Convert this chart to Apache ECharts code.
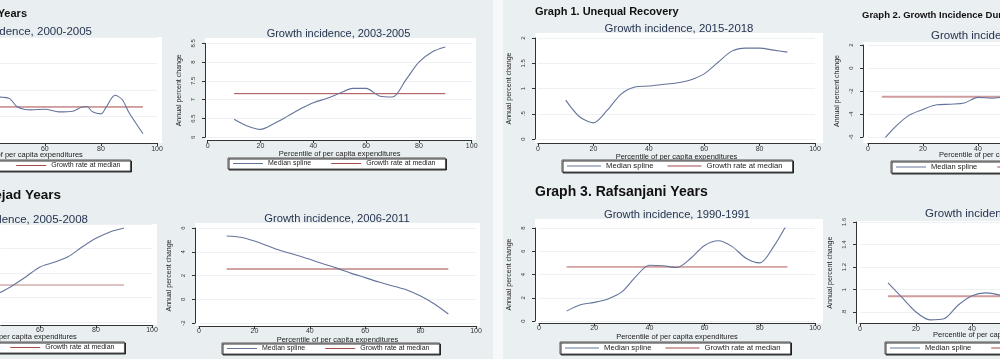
<!DOCTYPE html>
<html><head><meta charset="utf-8">
<script src="https://cdn.jsdelivr.net/npm/echarts@6/dist/echarts.min.js"></script>
<style>html,body{margin:0;padding:0;background:#e9eff1;}#c{width:1000px;height:359px;}</style>
</head><body><div id="c"></div>
<script>
// ---- data ----
const pctStd = [10,15,20,25,30,35,40,45,50,55,60,65,70,75,80,85,90];
const pctA = [40,45,47.5,50,52.5,55,60,65,70,73,75,77,80,82,85,87.5,90,95];
const splineA = [3.5,3.45,3.35,2.75,2.55,2.5,2.55,2.35,2.4,2.7,2.75,2.35,2.2,2.75,3.6,3.3,2.3,0.7];
const medianA = 2.72;
const splineB = [6.48,6.3,6.21,6.36,6.55,6.75,6.92,7.03,7.17,7.3,7.3,7.1,7.07,7.52,8.0,8.27,8.4];
const medianB = 7.16;
const pctC = [40,45,50,55,60,65,70,75,80,85,90];
const splineC = [1.7,2.3,2.94,3.7,4.49,4.87,5.33,6.12,6.83,7.35,7.67];
const medianC = 3.02;
const splineD = [5.33,5.22,4.9,4.48,4.06,3.73,3.36,2.97,2.6,2.18,1.82,1.45,1.12,0.78,0.27,-0.4,-1.24];
const medianD = 2.55;
const splineE = [0.77,0.44,0.32,0.57,0.89,1.03,1.05,1.08,1.11,1.17,1.29,1.52,1.74,1.8,1.8,1.76,1.72];
const pctF = [5,10,15,20,25,30,35,40,45,50];
const splineF = [-6.4,-5.1,-4.1,-3.6,-3.2,-3.15,-3.05,-2.55,-2.63,-2.5];
const medianF = -2.5;
const splineG = [0.85,1.4,1.6,1.9,2.5,3.8,4.8,4.75,4.6,5.4,6.5,6.9,6.4,5.4,5.0,6.4,8.4];
const medianG = 4.65;
const pctH = [10,15,20,25,30,35,40,45,50];
const splineH = [1.06,0.93,0.80,0.73,0.74,0.86,0.945,0.97,0.95];
const medianH = 0.94;
const xTicks = [0,20,40,60,80,100];
const yTicksH = [0.8,1,1.2,1.4,1.6];
const legendNames = ['Median spline','Growth rate at median'];
const xTitle = 'Percentile of per capita expenditures';
const yTitle = 'Annual percent change';

// ---- layout ----
const FONT = '"Liberation Sans", Arial, sans-serif';
const panels = [
 {pct:pctA, y:splineA, med:medianA, medX:[5,95], grid:[0,37,157,106], xmin:44,xmax:100, ymin:0,ymax:8,yint:2, hideY:true, frame:[-10,37,172,106], xoff:0,yoff:3,
  lm:3, ng:8, leg:[-87,160], legW:30, legGap:20, legFont:7, xName:[22,155,'center'], medColor:'#a5494b', medW:1},
 {pct:pctStd, y:splineB, med:medianB, medX:[10,90], grid:[207.7,43.3,264,94], xmin:0,xmax:100, ymin:6,ymax:8.5,yint:0.5, frame:[205,38,271,102], xoff:2.7,yoff:2.7,
  lm:2.5, ng:9, leg:[228,158], legW:30, legGap:20, legFont:7, medColor:'#a5494b', medW:1},
 {pct:pctC, y:splineC, med:medianC, medX:[10,90], grid:[0.8,224,151.2,98], xmin:46,xmax:100, ymin:0,ymax:8,yint:2, hideY:true, frame:[-10,224,167,101], xoff:3,yoff:3,
  lm:2, ng:8, leg:[-93,342], legW:30, legGap:20, legFont:7, xName:[16,337,'center'], medColor:'#b98584', medW:1},
 {pct:pctStd, y:splineD, med:medianD, medX:[10,90], grid:[199,228,277,95], xmin:0,xmax:100, ymin:-2,ymax:6,yint:2, frame:[195,223,285,103], xoff:3,yoff:4,
  lm:2, ng:7, leg:[222,343], legW:30, legGap:20, legFont:7, medColor:'#cfa3a3', medW:2},
 {pct:pctStd, y:splineE, med:null, medX:[10,90], grid:[538,38,277,101], xmin:0,xmax:100, ymin:0,ymax:2,yint:0.5, frame:[535,33,288,110], xoff:4,yoff:3,
  lm:2.5, ng:8, leg:[562,160], legW:34, legGap:14, legFont:7.7, medColor:'#a5494b', medW:1},
 {pct:pctF, y:splineF, med:medianF, medX:[5,95], grid:[868,45,132,92], xmin:0,xmax:48, ymin:-6,ymax:2,yint:2, frame:[863,42,150,101], xoff:6,yoff:5,
  lm:3, ng:8, leg:[891,161], legW:30, legGap:20, legFont:7.5, xName:[939,155,'left'], medColor:'#cf9d9d', medW:2},
 {pct:pctStd, y:splineG, med:medianG, medX:[10,90], grid:[539,228,276,93], xmin:0,xmax:100, ymin:0,ymax:8,yint:2, frame:[535,219,288,104], xoff:2,yoff:4,
  lm:2, ng:8, leg:[560,342], legW:34, legGap:14, legFont:7.7, medColor:'#b0595a', medW:1},
 {pct:pctH, y:splineH, med:medianH, medX:[10,90], grid:[860,222,140,101.3], xmin:0,xmax:50, ymin:0.7,ymax:1.6, yCustom:yTicksH, frame:[856,221,150,102], xoff:0,yoff:4,
  lm:2.5, ng:8, leg:[885,342], legW:30, legGap:20, legFont:7.5, xName:[933,335,'left'], medColor:'#cf9d9d', medW:2}
];
const fmt = v => { let s = String(Math.round(v*100)/100); return s.replace(/^0\./,'.').replace(/^-0\./,'-.'); };

const grids=[], xAxes=[], yAxes=[], series=[], legends=[], gfx=[];
gfx.push({type:'rect', shape:{x:0,y:0,width:493,height:359}, style:{fill:'#e9eff1'}, z:-20});
gfx.push({type:'rect', shape:{x:493,y:0,width:10,height:359}, style:{fill:'#f6f8f9'}, z:-20});
gfx.push({type:'rect', shape:{x:503,y:0,width:497,height:359}, style:{fill:'#eaeff2'}, z:-20});

function txt(text,x,y,align,size,bold,color){
  gfx.push({type:'text', x:x, y:y, style:{text:text, textAlign:align, textVerticalAlign:'middle',
    font:(bold?'bold ':'')+size+'px '+FONT, fill:color||'#26344f'}, z:5});
}

panels.forEach((p,i)=>{
  const [l,t,w,h]=p.grid;
  grids.push({left:l, top:t, width:w, height:h, containLabel:false});
  gfx.push({type:'rect', shape:{x:p.frame[0],y:p.frame[1],width:p.frame[2],height:p.frame[3]}, style:{fill:'#ffffff'}, z:-10});
  const xc = xTicks.filter(v=>v>=p.xmin && v<=p.xmax);
  xAxes.push({type:'value', gridIndex:i, min:p.xmin, max:p.xmax, offset:p.xoff,
    name: p.xName ? '' : xTitle, nameLocation:'middle', nameGap:p.ng, nameTextStyle:{fontSize:7.5, color:'#222', fontFamily:FONT},
    axisLine:{show:true, onZero:false, lineStyle:{color:'#333', width:1}},
    axisTick:{show:true, length:3, customValues:xc, lineStyle:{color:'#333'}},
    axisLabel:{fontSize:7, color:'#333', margin:p.lm, customValues:xc, fontFamily:FONT, showMinLabel:true, showMaxLabel:true},
    splitLine:{show:false}});
  if(p.xName) txt(xTitle, p.xName[0], p.xName[1], p.xName[2], 7.5, false, '#222');
  const yax = {type:'value', gridIndex:i, min:p.ymin, max:p.ymax, offset:p.yoff,
    name: p.hideY ? '' : yTitle, nameLocation:'middle', nameGap:22, nameRotate:90, nameTextStyle:{fontSize:7, color:'#222', fontFamily:FONT},
    axisLine:{show:!p.hideY, onZero:false, lineStyle:{color:'#333', width:1}},
    axisTick:{show:!p.hideY, length:3, lineStyle:{color:'#333'}},
    axisLabel:{show:!p.hideY, fontSize:6, color:'#333', margin:8.5, rotate:90, formatter:fmt, fontFamily:FONT},
    splitLine:{show:true, lineStyle:{color:'#edf1f3', width:1}}};
  if(p.yCustom){ yax.axisTick.customValues = p.yCustom; yax.axisLabel.customValues = p.yCustom; }
  else { yax.interval = p.yint; }
  yAxes.push(yax);
  series.push({type:'line', name:legendNames[0], xAxisIndex:i, yAxisIndex:i, symbol:'none', smooth:0.3,
    data:p.pct.map((x,k)=>[x,p.y[k]]), lineStyle:{color:'#64749a', width:1.1}, itemStyle:{color:'#64749a'}, z:3});
  series.push({type:'line', name:legendNames[1], xAxisIndex:i, yAxisIndex:i, symbol:'none',
    data: p.med===null ? [] : [[p.medX[0],p.med],[p.medX[1],p.med]],
    lineStyle:{color:p.medColor, width:p.medW}, itemStyle:{color:'#a5494b'}, z:2});
  legends.push({left:p.leg[0], top:p.leg[1], width:300, data:legendNames, icon:'rect', itemWidth:p.legW, itemHeight:1, itemGap:p.legGap,
    padding:[2,10,2,5], backgroundColor:'#fff', borderColor:'#555', borderWidth:1, borderRadius:0,
    shadowColor:'rgba(0,0,0,0.8)', shadowOffsetX:1, shadowOffsetY:1, shadowBlur:0,
    selectedMode:false, textStyle:{fontSize:p.legFont, color:'#222', fontFamily:FONT}});
});

// plot titles
txt('Growth incidence, 2000-2005', 92, 32, 'right', 11.5);
txt('Growth incidence, 2003-2005', 338.5, 33.5, 'center', 11);
txt('Growth incidence, 2005-2008', 88, 220, 'right', 11.5);
txt('Growth incidence, 2006-2011', 337, 219, 'center', 11.2);
txt('Growth incidence, 2015-2018', 679, 29, 'center', 11.4);
txt('Growth incidence, 2013-2015', 931, 36, 'left', 11.5);
txt('Growth incidence, 1990-1991', 677, 215, 'center', 11.2);
txt('Growth incidence, 1991-1992', 925, 214, 'left', 11.5);
// slide headers
txt('Graph 4. Khatami Years', 27, 14, 'right', 11, true, '#111');
txt('Graph 5. Ahmadinejad Years', 61, 195, 'right', 13.5, true, '#111');
txt('Graph 1. Unequal Recovery', 535, 12, 'left', 11, true, '#111');
txt('Graph 2. Growth Incidence During Rouhani Years', 862, 15, 'left', 9.5, true, '#111');
txt('Graph 3. Rafsanjani Years', 535, 192, 'left', 14, true, '#111');

const chart = echarts.init(document.getElementById('c'), null, {renderer:'canvas'});
chart.setOption({
  backgroundColor:'transparent', animation:false,
  grid:grids, xAxis:xAxes, yAxis:yAxes, series:series, legend:legends, graphic:gfx
});
</script></body></html>
